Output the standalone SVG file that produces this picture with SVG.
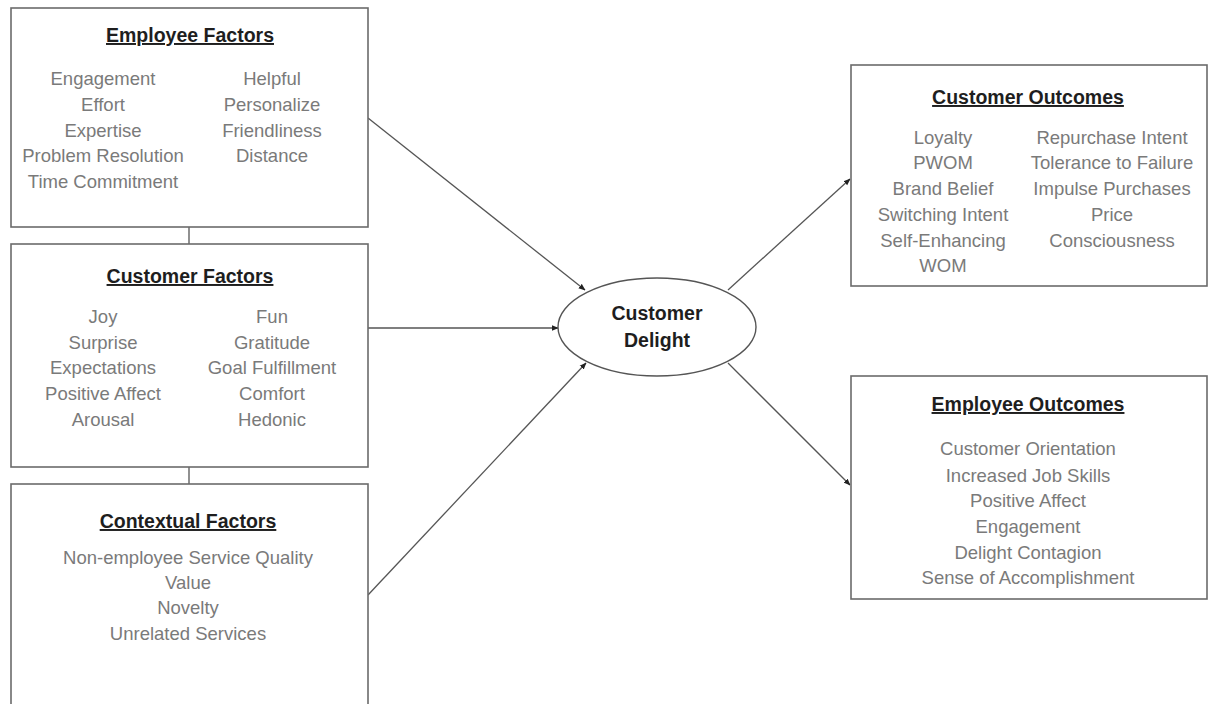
<svg xmlns="http://www.w3.org/2000/svg" width="1209" height="704" viewBox="0 0 1209 704">
<style>
.box{fill:#fff;stroke:#6b6b6b;stroke-width:1.6}
.hd{font-family:"Liberation Sans",Arial,sans-serif;font-weight:bold;font-size:19.5px;fill:#1e1e1e;text-anchor:middle;text-decoration:underline}
.tx{font-family:"Liberation Sans",Arial,sans-serif;font-size:18.5px;fill:#7a7a7a;text-anchor:middle}
.ct{font-family:"Liberation Sans",Arial,sans-serif;font-weight:bold;font-size:19.5px;fill:#1e1e1e;text-anchor:middle}
.ln{stroke:#555;stroke-width:1.3;fill:none}
</style>
<defs>
<marker id="ah" viewBox="0 0 10 10" refX="9" refY="5" markerWidth="7" markerHeight="7" markerUnits="userSpaceOnUse" orient="auto">
<path d="M0,1 L10,5 L0,9 Z" fill="#222"/>
</marker>
</defs>
<rect width="1209" height="704" fill="#fff"/>
<g id="connectors">
<line class="ln" x1="189" y1="227" x2="189" y2="244"/>
<line class="ln" x1="189" y1="467" x2="189" y2="484"/>
<line class="ln" x1="368" y1="118" x2="585" y2="290" marker-end="url(#ah)"/>
<line class="ln" x1="368" y1="328" x2="558" y2="328" marker-end="url(#ah)"/>
<line class="ln" x1="368" y1="595" x2="586" y2="363" marker-end="url(#ah)"/>
<line class="ln" x1="728" y1="290" x2="850" y2="179" marker-end="url(#ah)"/>
<line class="ln" x1="728" y1="363" x2="850" y2="485" marker-end="url(#ah)"/>
</g>
<g id="employee-factors">
<rect class="box" x="11" y="8" width="357" height="219"/>
<text class="hd" x="190" y="42">Employee Factors</text>
<text class="tx" x="103" y="85">Engagement</text>
<text class="tx" x="103" y="111">Effort</text>
<text class="tx" x="103" y="137">Expertise</text>
<text class="tx" x="103" y="162">Problem Resolution</text>
<text class="tx" x="103" y="188">Time Commitment</text>
<text class="tx" x="272" y="85">Helpful</text>
<text class="tx" x="272" y="111">Personalize</text>
<text class="tx" x="272" y="137">Friendliness</text>
<text class="tx" x="272" y="162">Distance</text>
</g>
<g id="customer-factors">
<rect class="box" x="11" y="244" width="357" height="223"/>
<text class="hd" x="190" y="283">Customer Factors</text>
<text class="tx" x="103" y="323">Joy</text>
<text class="tx" x="103" y="349">Surprise</text>
<text class="tx" x="103" y="374">Expectations</text>
<text class="tx" x="103" y="400">Positive Affect</text>
<text class="tx" x="103" y="426">Arousal</text>
<text class="tx" x="272" y="323">Fun</text>
<text class="tx" x="272" y="349">Gratitude</text>
<text class="tx" x="272" y="374">Goal Fulfillment</text>
<text class="tx" x="272" y="400">Comfort</text>
<text class="tx" x="272" y="426">Hedonic</text>
</g>
<g id="contextual-factors">
<rect class="box" x="11" y="484" width="357" height="240"/>
<text class="hd" x="188" y="528">Contextual Factors</text>
<text class="tx" x="188" y="564">Non-employee Service Quality</text>
<text class="tx" x="188" y="589">Value</text>
<text class="tx" x="188" y="614">Novelty</text>
<text class="tx" x="188" y="640">Unrelated Services</text>
</g>
<g id="customer-delight">
<ellipse cx="657" cy="327" rx="99" ry="49" fill="#fff" stroke="#555" stroke-width="1.4"/>
<text class="ct" x="657" y="320">Customer</text>
<text class="ct" x="657" y="347">Delight</text>
</g>
<g id="customer-outcomes">
<rect class="box" x="851" y="65" width="356" height="221"/>
<text class="hd" x="1028" y="104">Customer Outcomes</text>
<text class="tx" x="943" y="144">Loyalty</text>
<text class="tx" x="943" y="169">PWOM</text>
<text class="tx" x="943" y="195">Brand Belief</text>
<text class="tx" x="943" y="221">Switching Intent</text>
<text class="tx" x="943" y="247">Self-Enhancing</text>
<text class="tx" x="943" y="272">WOM</text>
<text class="tx" x="1112" y="144">Repurchase Intent</text>
<text class="tx" x="1112" y="169">Tolerance to Failure</text>
<text class="tx" x="1112" y="195">Impulse Purchases</text>
<text class="tx" x="1112" y="221">Price</text>
<text class="tx" x="1112" y="247">Consciousness</text>
</g>
<g id="employee-outcomes">
<rect class="box" x="851" y="376" width="356" height="223"/>
<text class="hd" x="1028" y="411">Employee Outcomes</text>
<text class="tx" x="1028" y="455">Customer Orientation</text>
<text class="tx" x="1028" y="482">Increased Job Skills</text>
<text class="tx" x="1028" y="507">Positive Affect</text>
<text class="tx" x="1028" y="533">Engagement</text>
<text class="tx" x="1028" y="559">Delight Contagion</text>
<text class="tx" x="1028" y="584">Sense of Accomplishment</text>
</g>
</svg>
